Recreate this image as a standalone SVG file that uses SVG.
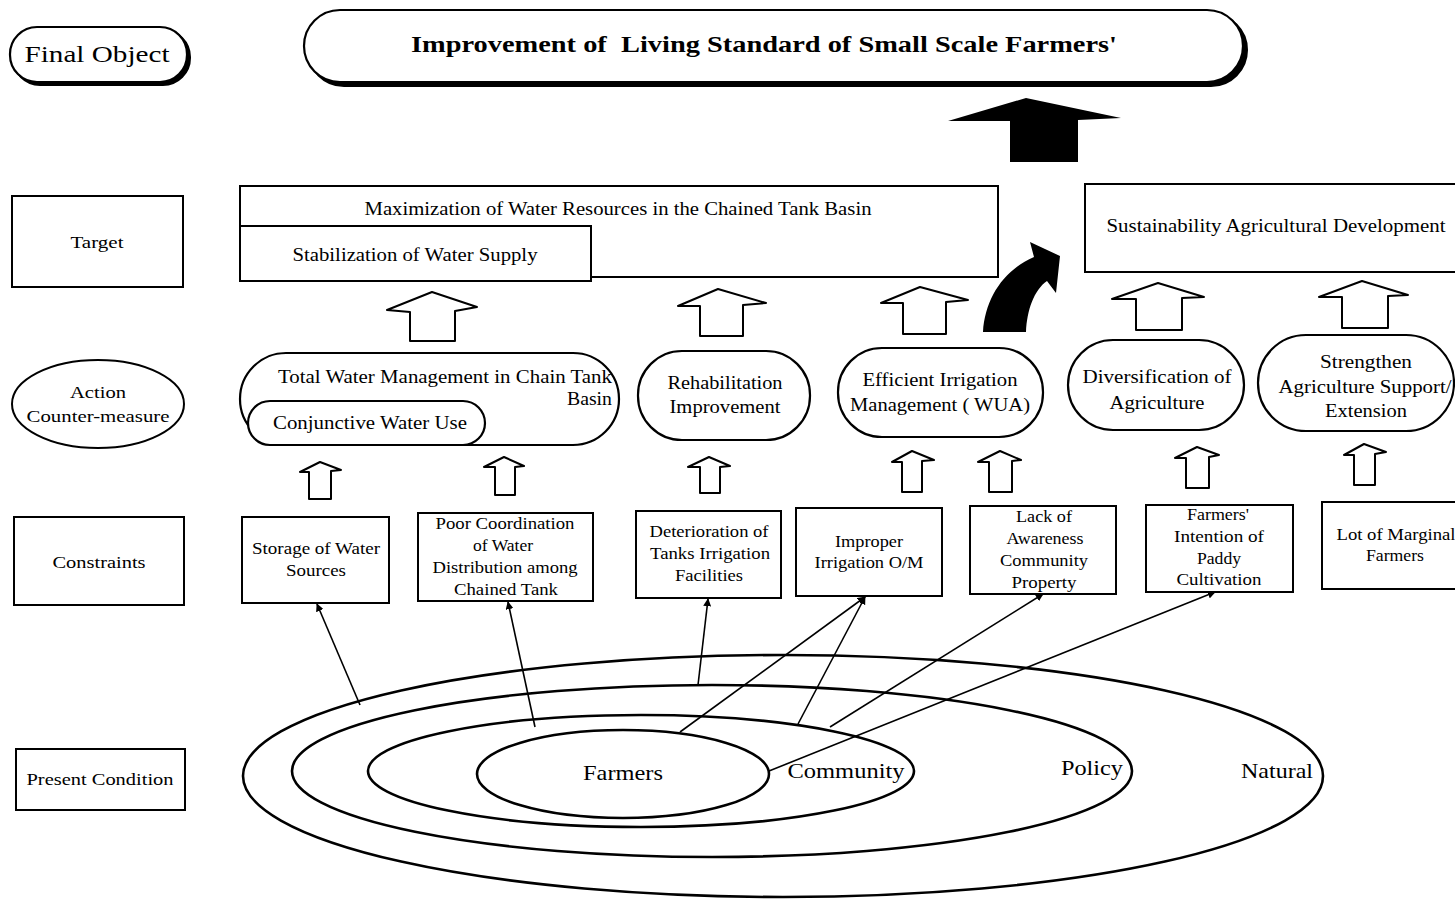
<svg xmlns="http://www.w3.org/2000/svg" width="1455" height="901" viewBox="0 0 1455 901">
<defs>
<style>
text{font-family:"Liberation Serif","Times New Roman",serif;fill:#000;text-anchor:middle}
.box{fill:#fff;stroke:#000;stroke-width:2}
.pill{fill:#fff;stroke:#000;stroke-width:2.2}
.shadow{fill:#000;stroke:#000;stroke-width:2}
.hollow{fill:#fff;stroke:#000;stroke-width:2;stroke-linejoin:round}
.ring{fill:none;stroke:#000;stroke-width:2.6}
.conn{fill:none;stroke:#000;stroke-width:1.6}
.t16{font-size:16px}
.t17{font-size:17px}
.t18{font-size:18px}
.t21{font-size:21px}
</style>
<marker id="ah" viewBox="0 0 10 10" refX="9" refY="5" markerWidth="8" markerHeight="8" markerUnits="userSpaceOnUse" orient="auto">
<path d="M0,0 L10,5 L0,10 Z" fill="#000"/>
</marker>
</defs>
<rect width="1455" height="901" fill="#fff"/>

<!-- Present condition rings -->
<g id="present-rings">
<ellipse class="ring" cx="783" cy="776" rx="540" ry="121"/>
<ellipse class="ring" cx="712" cy="771" rx="420" ry="86"/>
<ellipse class="ring" cx="641" cy="771" rx="273" ry="56"/>
<ellipse class="ring" cx="623" cy="774" rx="146" ry="44"/>
<text class="t21" x="623" y="780" textLength="80" lengthAdjust="spacingAndGlyphs">Farmers</text>
<text class="t21" x="846" y="778" textLength="117" lengthAdjust="spacingAndGlyphs">Community</text>
<text class="t21" x="1092" y="775" textLength="62" lengthAdjust="spacingAndGlyphs">Policy</text>
<text class="t21" x="1277" y="778" textLength="72" lengthAdjust="spacingAndGlyphs">Natural</text>
</g>

<!-- Left legend column -->
<g id="label-final">
<rect class="shadow" x="13" y="30" width="177" height="55" rx="27"/>
<rect class="pill" x="10" y="27" width="177" height="55" rx="27"/>
<text x="97" y="62" style="font-size:24px" textLength="145" lengthAdjust="spacingAndGlyphs">Final Object</text>
</g>
<g id="label-target">
<rect class="box" x="12" y="196" width="171" height="91"/>
<text class="t17" x="97" y="248" textLength="53" lengthAdjust="spacingAndGlyphs">Target</text>
</g>
<g id="label-action">
<ellipse class="box" cx="98" cy="404" rx="86" ry="44"/>
<text class="t17" x="98" y="398" textLength="56" lengthAdjust="spacingAndGlyphs">Action</text>
<text class="t17" x="98" y="422" textLength="143" lengthAdjust="spacingAndGlyphs">Counter-measure</text>
</g>
<g id="label-constraints">
<rect class="box" x="14" y="517" width="170" height="88"/>
<text class="t17" x="99" y="568" textLength="93" lengthAdjust="spacingAndGlyphs">Constraints</text>
</g>
<g id="label-present">
<rect class="box" x="16" y="749" width="169" height="61"/>
<text class="t17" x="100" y="785" textLength="147" lengthAdjust="spacingAndGlyphs">Present Condition</text>
</g>

<!-- Final object -->
<g id="final-object">
<rect class="shadow" x="308" y="14" width="939" height="72" rx="36"/>
<rect class="pill" x="304" y="10" width="939" height="72" rx="36"/>
<text x="764" y="52" style="font-size:24px;font-weight:bold" textLength="706" lengthAdjust="spacingAndGlyphs" xml:space="preserve">Improvement of  Living Standard of Small Scale Farmers'</text>
</g>

<g id="big-arrow">
<path d="M1010,162 L1010,121 L948,121 L1026,98 L1121,118 L1078,120 L1078,162 Z" fill="#000"/>
</g>

<!-- Targets -->
<g id="target-maximization">
<rect class="box" x="240" y="186" width="758" height="91"/>
<text class="t18" x="618" y="215" textLength="507" lengthAdjust="spacingAndGlyphs">Maximization of Water Resources in the Chained Tank Basin</text>
</g>
<g id="target-stabilization">
<rect class="box" x="240" y="226" width="351" height="55"/>
<text class="t18" x="415" y="261" textLength="245" lengthAdjust="spacingAndGlyphs">Stabilization of Water Supply</text>
</g>
<g id="target-sustainability">
<rect class="box" x="1085" y="184" width="380" height="88"/>
<text class="t18" x="1276" y="232" textLength="339" lengthAdjust="spacingAndGlyphs">Sustainability Agricultural Development</text>
</g>

<g id="curved-arrow">
<path d="M983,332 C985,298 1004,270 1034,257 L1030,242 L1060,256 L1056,293 L1047,281 C1034,290 1027,310 1026,332 Z" fill="#000"/>
</g>

<!-- Actions -->
<g id="action-total">
<rect class="pill" x="240" y="353" width="379" height="92" rx="46"/>
<text class="t18" x="445" y="383" textLength="334" lengthAdjust="spacingAndGlyphs">Total Water Management in Chain Tank</text>
<text class="t18" x="612" y="405" style="text-anchor:end" textLength="45" lengthAdjust="spacingAndGlyphs">Basin</text>
</g>
<g id="action-conjunctive">
<rect class="pill" x="248" y="401" width="237" height="44" rx="22"/>
<text class="t18" x="370" y="429" textLength="194" lengthAdjust="spacingAndGlyphs">Conjunctive Water Use</text>
</g>
<g id="action-rehab">
<rect class="pill" x="638" y="351" width="172" height="89" rx="44"/>
<text class="t18" x="725" y="389" textLength="115" lengthAdjust="spacingAndGlyphs">Rehabilitation</text>
<text class="t18" x="725" y="413" textLength="111" lengthAdjust="spacingAndGlyphs">Improvement</text>
</g>
<g id="action-efficient">
<rect class="pill" x="838" y="348" width="205" height="89" rx="44"/>
<text class="t18" x="940" y="386" textLength="155" lengthAdjust="spacingAndGlyphs">Efficient Irrigation</text>
<text class="t18" x="940" y="411" textLength="180" lengthAdjust="spacingAndGlyphs" xml:space="preserve">Management ( WUA)</text>
</g>
<g id="action-diversification">
<rect class="pill" x="1068" y="340" width="176" height="90" rx="45"/>
<text class="t18" x="1157" y="383" textLength="149" lengthAdjust="spacingAndGlyphs">Diversification of</text>
<text class="t18" x="1157" y="409" textLength="95" lengthAdjust="spacingAndGlyphs">Agriculture</text>
</g>
<g id="action-strengthen">
<rect class="pill" x="1258" y="335" width="196" height="96" rx="48"/>
<text class="t18" x="1366" y="368" textLength="92" lengthAdjust="spacingAndGlyphs">Strengthen</text>
<text class="t18" x="1365" y="393" textLength="173" lengthAdjust="spacingAndGlyphs">Agriculture Support/</text>
<text class="t18" x="1366" y="417" textLength="82" lengthAdjust="spacingAndGlyphs">Extension</text>
</g>

<!-- Constraints -->
<g id="c-storage">
<rect class="box" x="242" y="517" width="147" height="86"/>
<text class="t16" x="316" y="554" textLength="128" lengthAdjust="spacingAndGlyphs">Storage of Water</text>
<text class="t16" x="316" y="576" textLength="60" lengthAdjust="spacingAndGlyphs">Sources</text>
</g>
<g id="c-poor">
<rect class="box" x="418" y="513" width="175" height="88"/>
<text class="t16" x="505" y="529" textLength="139" lengthAdjust="spacingAndGlyphs">Poor Coordination</text>
<text class="t16" x="503" y="551" textLength="60" lengthAdjust="spacingAndGlyphs">of Water</text>
<text class="t16" x="505" y="573" textLength="145" lengthAdjust="spacingAndGlyphs">Distribution among</text>
<text class="t16" x="506" y="595" textLength="104" lengthAdjust="spacingAndGlyphs">Chained Tank</text>
</g>
<g id="c-deterioration">
<rect class="box" x="636" y="511" width="145" height="87"/>
<text class="t16" x="709" y="537" textLength="119" lengthAdjust="spacingAndGlyphs">Deterioration of</text>
<text class="t16" x="710" y="559" textLength="120" lengthAdjust="spacingAndGlyphs">Tanks Irrigation</text>
<text class="t16" x="709" y="581" textLength="68" lengthAdjust="spacingAndGlyphs">Facilities</text>
</g>
<g id="c-improper">
<rect class="box" x="796" y="508" width="146" height="88"/>
<text class="t16" x="869" y="547" textLength="68" lengthAdjust="spacingAndGlyphs">Improper</text>
<text class="t16" x="869" y="568" textLength="109" lengthAdjust="spacingAndGlyphs">Irrigation O/M</text>
</g>
<g id="c-lack">
<rect class="box" x="970" y="506" width="146" height="88"/>
<text class="t16" x="1044" y="522" textLength="56" lengthAdjust="spacingAndGlyphs">Lack of</text>
<text class="t16" x="1045" y="544" textLength="77" lengthAdjust="spacingAndGlyphs">Awareness</text>
<text class="t16" x="1044" y="566" textLength="88" lengthAdjust="spacingAndGlyphs">Community</text>
<text class="t16" x="1044" y="588" textLength="65" lengthAdjust="spacingAndGlyphs">Property</text>
</g>
<g id="c-farmers-intention">
<rect class="box" x="1146" y="505" width="147" height="87"/>
<text class="t16" x="1218" y="520" textLength="62" lengthAdjust="spacingAndGlyphs">Farmers'</text>
<text class="t16" x="1219" y="542" textLength="90" lengthAdjust="spacingAndGlyphs">Intention of</text>
<text class="t16" x="1219" y="564" textLength="44" lengthAdjust="spacingAndGlyphs">Paddy</text>
<text class="t16" x="1219" y="585" textLength="85" lengthAdjust="spacingAndGlyphs">Cultivation</text>
</g>
<g id="c-lot">
<rect class="box" x="1322" y="502" width="143" height="87"/>
<text class="t16" x="1396" y="540" textLength="119" lengthAdjust="spacingAndGlyphs">Lot of Marginal</text>
<text class="t16" x="1395" y="561" textLength="58" lengthAdjust="spacingAndGlyphs">Farmers</text>
</g>

<!-- Connectors -->
<g id="connectors">
<polygon class="hollow" points="410,341 410,312 387,310 432,292 477,307 455,311 455,341"/>
<polygon class="hollow" points="700,336 700,306 678,306 718,289 766,303 743,305 743,336"/>
<polygon class="hollow" points="903,334 903,303 881,303 920,287 968,300 946,302 946,334"/>
<polygon class="hollow" points="1136,330 1136,299 1112,299 1158,283 1204,297 1182,298 1182,330"/>
<polygon class="hollow" points="1342,328 1342,297 1319,297 1362,281 1408,295 1388,296 1388,328"/>

<polygon class="hollow" points="309,499 309,472 300,472 320,462 341,470 331,471 331,499"/>
<polygon class="hollow" points="495,495 495,467 484,467 504,457 524,466 515,467 515,495"/>
<polygon class="hollow" points="700,493 700,467 688,467 709,457 730,466 720,467 720,493"/>
<polygon class="hollow" points="902,492 902,462 892,462 912,451 934,460 922,461 922,492"/>
<polygon class="hollow" points="989,492 989,462 978,462 1000,451 1021,460 1012,461 1012,492"/>
<polygon class="hollow" points="1186,488 1186,458 1175,458 1197,447 1219,455 1209,457 1209,488"/>
<polygon class="hollow" points="1354,485 1354,455 1344,455 1364,444 1386,452 1375,454 1375,485"/>

<line class="conn" x1="360" y1="705" x2="317" y2="604" marker-end="url(#ah)"/>
<line class="conn" x1="535" y1="727" x2="508" y2="602" marker-end="url(#ah)"/>
<line class="conn" x1="698" y1="685" x2="708" y2="599" marker-end="url(#ah)"/>
<line class="conn" x1="680" y1="732" x2="865" y2="597" marker-end="url(#ah)"/>
<line class="conn" x1="798" y1="724" x2="865" y2="597" marker-end="url(#ah)"/>
<line class="conn" x1="830" y1="727" x2="1043" y2="594" marker-end="url(#ah)"/>
<line class="conn" x1="769" y1="771" x2="1215" y2="592" marker-end="url(#ah)"/>
</g>
</svg>
